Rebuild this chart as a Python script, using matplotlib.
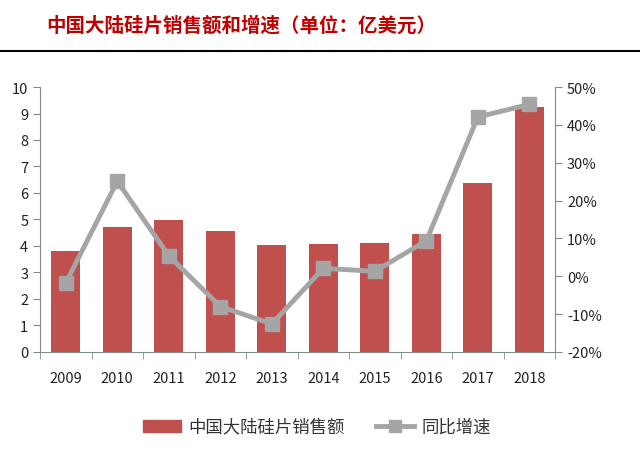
import numpy as np
import matplotlib
matplotlib.use("Agg")
import matplotlib.pyplot as plt
from matplotlib.lines import Line2D
from matplotlib.patches import Patch

plt.rcParams['font.family'] = ['Noto Sans CJK SC', 'DejaVu Sans']

years = ['2009', '2010', '2011', '2012', '2013', '2014', '2015', '2016', '2017', '2018']
sales = [3.82, 4.73, 4.97, 4.58, 4.03, 4.08, 4.12, 4.46, 6.39, 9.25]
growth = [-1.8, 25.1, 5.4, -8.0, -12.6, 2.1, 1.3, 9.4, 42.1, 45.4]

bar_color = '#C0504D'
line_color = '#A5A5A5'
axis_color = '#7F8C8D'

fig = plt.figure(figsize=(6.4, 4.56), dpi=100)
ax = fig.add_axes([0.0625, 0.226, 0.805, 0.581])
ax2 = ax.twinx()

x = np.arange(len(years))
ax.bar(x, sales, width=0.56, color=bar_color, zorder=2)
ax2.plot(x, growth, color=line_color, lw=3.5, marker='s', ms=10, zorder=3)

ax.set_xlim(-0.5, len(years) - 0.5)
ax.set_ylim(0, 10)
ax.set_yticks(range(0, 11))
ax2.set_ylim(-20, 50)
ax2.set_yticks(range(-20, 51, 10))
ax2.set_yticklabels([f'{v}%' for v in range(-20, 51, 10)])

ax.set_xticks(x)
ax.set_xticklabels(years)
ax.set_xticks(np.arange(-0.5, len(years), 1), minor=True)
ax.tick_params(axis='x', which='major', length=0, pad=14, labelsize=10.5, colors='#222222')
ax.tick_params(axis='x', which='minor', length=5, color=axis_color, direction='out')
ax.tick_params(axis='y', length=5, color=axis_color, labelsize=10.5, labelcolor='#222222')
ax2.tick_params(axis='y', length=5, color=axis_color, labelsize=10.5, labelcolor='#222222')

for a in (ax, ax2):
    a.spines['top'].set_visible(False)
    for s in ('left', 'right', 'bottom'):
        a.spines[s].set_color(axis_color)
ax.spines['right'].set_visible(False)
ax2.spines['left'].set_visible(False)
ax2.spines['bottom'].set_visible(False)

# 标题
fig.text(0.073, 0.943, '中国大陆硅片销售额和增速（单位：亿美元）', color='#C00000',
         fontsize=14, fontweight='bold', va='center', ha='left')
fig.add_artist(Line2D([0, 1], [0.886, 0.886], color='black', lw=1.5,
                      transform=fig.transFigure))

handles = [Patch(color=bar_color),
           Line2D([], [], color=line_color, lw=3.5, marker='s', ms=8)]
fig.legend(handles, ['中国大陆硅片销售额', '同比增速'], loc='center',
           bbox_to_anchor=(0.495, 0.062), ncol=2, frameon=False, fontsize=12.5,
           handlelength=2.2, handletextpad=0.4, columnspacing=1.8, labelcolor='#333333')

fig.savefig('out.png', dpi=100)
